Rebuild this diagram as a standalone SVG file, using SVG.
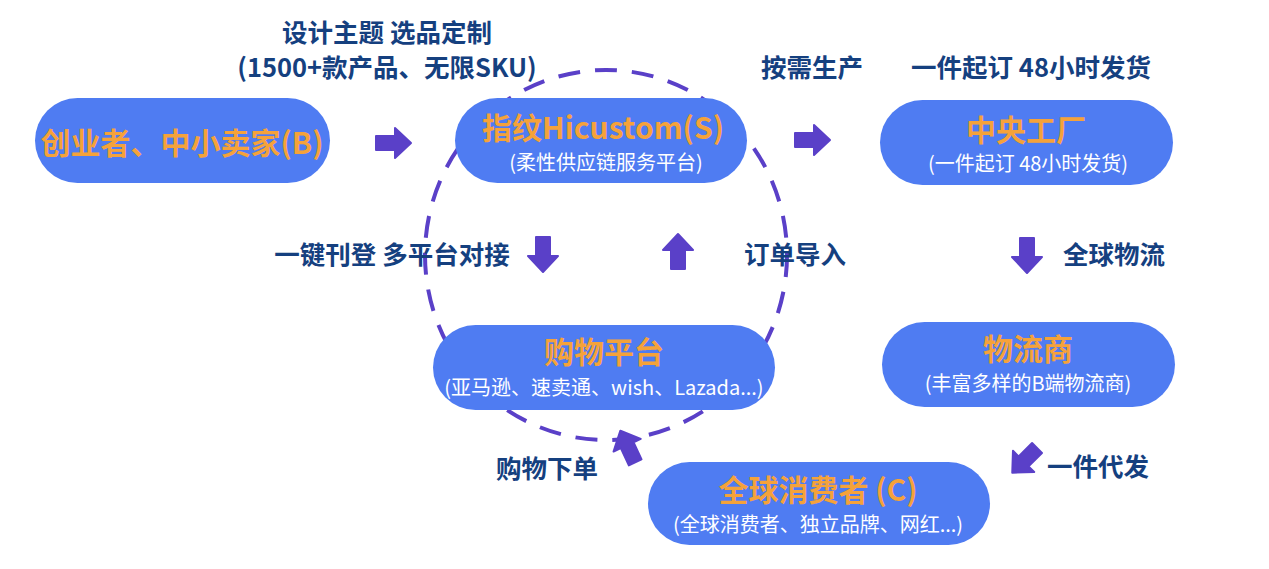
<svg xmlns="http://www.w3.org/2000/svg" width="1269" height="569" viewBox="0 0 1269 569">
<defs>
<style>
.pill{fill:#4f7cf2}
.t{font-family:"Noto Sans CJK SC","Noto Sans",sans-serif;text-anchor:middle;fill:#f5a23a;font-weight:bold;font-size:30px}
.s{font-family:"Noto Sans CJK SC","Noto Sans",sans-serif;text-anchor:middle;fill:#ffffff;font-size:20px}
.lbl{font-family:"Noto Sans CJK SC","Noto Sans",sans-serif;text-anchor:middle;fill:#15407f;font-size:25.5px;font-weight:bold}
.arr{fill:#5a40c8;stroke:#5a40c8;stroke-width:2;stroke-linejoin:round}
</style>
<path id="ar" d="M-17,-7 H2 V-15 L18,0 L2,15 V7 H-17 Z"/>
</defs>
<rect width="1269" height="569" fill="#ffffff"/>
<g id="cycle">
<ellipse cx="606" cy="255" rx="181" ry="185" fill="none" stroke="#5a40c8" stroke-width="4" stroke-dasharray="22 15"/>
</g>
<g id="connectors">
<use href="#ar" class="arr" transform="translate(393,143)"/>
<use href="#ar" class="arr" transform="translate(812,140)"/>
<use href="#ar" class="arr" transform="translate(543,254) rotate(90)"/>
<use href="#ar" class="arr" transform="translate(678,252) rotate(-90)"/>
<use href="#ar" class="arr" transform="translate(1027,255) rotate(90)"/>
<use href="#ar" class="arr" transform="translate(1025,460) rotate(135)"/>
<use href="#ar" class="arr" transform="translate(628,447) rotate(-115)"/>
</g>
<g id="labels">
<text class="lbl" x="387" y="42">设计主题 选品定制</text>
<text class="lbl" x="387" y="77">(1500+款产品、无限SKU)</text>
<text class="lbl" x="812" y="77">按需生产</text>
<text class="lbl" x="1031" y="77">一件起订 48小时发货</text>
<text class="lbl" x="392" y="264">一键刊登 多平台对接</text>
<text class="lbl" x="795" y="264">订单导入</text>
<text class="lbl" x="1114" y="264">全球物流</text>
<text class="lbl" x="1098" y="476">一件代发</text>
<text class="lbl" x="547" y="478">购物下单</text>
</g>
<g id="node-b">
<rect class="pill" x="35" y="98" width="295" height="85" rx="42.5"/>
<text class="t" x="182" y="154">创业者、中小卖家(B)</text>
</g>
<g id="node-s">
<rect class="pill" x="455" y="98" width="292" height="85" rx="42.5"/>
<text class="t" x="603" y="139">指纹Hicustom(S)</text>
<text class="s" x="606" y="170">(柔性供应链服务平台)</text>
</g>
<g id="node-factory">
<rect class="pill" x="880" y="100" width="293" height="85" rx="42.5"/>
<text class="t" x="1026" y="141">中央工厂</text>
<text class="s" x="1028" y="171">(一件起订 48小时发货)</text>
</g>
<g id="node-platform">
<rect class="pill" x="433" y="325" width="342" height="85" rx="42.5"/>
<text class="t" x="604" y="363">购物平台</text>
<text class="s" x="604" y="395">(亚马逊、速卖通、wish、Lazada...)</text>
</g>
<g id="node-logistics">
<rect class="pill" x="882" y="322" width="293" height="85" rx="42.5"/>
<text class="t" x="1028" y="360">物流商</text>
<text class="s" x="1028" y="391">(丰富多样的B端物流商)</text>
</g>
<g id="node-consumer">
<rect class="pill" x="648" y="462" width="342" height="83" rx="41.5"/>
<text class="t" x="818" y="501">全球消费者 (C)</text>
<text class="s" x="818" y="532">(全球消费者、独立品牌、网红...)</text>
</g>
</svg>
